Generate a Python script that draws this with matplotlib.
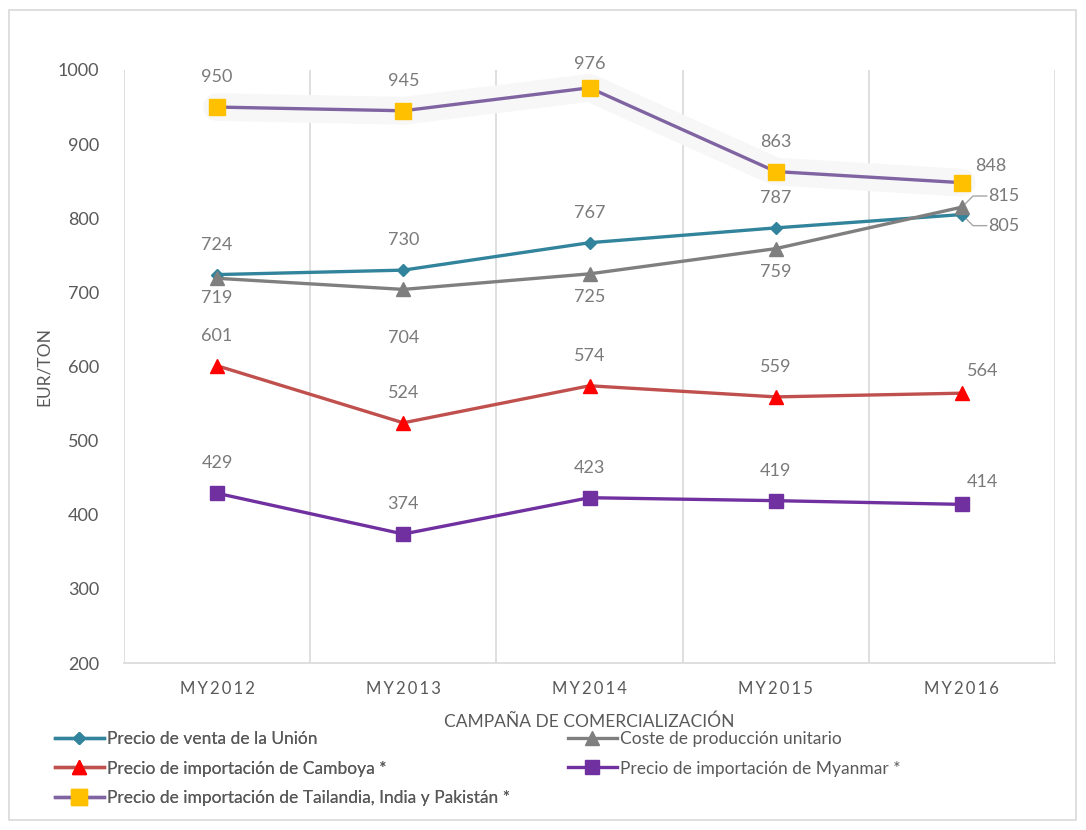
import matplotlib.pyplot as plt
from matplotlib.patches import Rectangle

plt.rcParams['font.family'] = ['Lato', 'DejaVu Sans']

campaigns = ['MY2012', 'MY2013', 'MY2014', 'MY2015', 'MY2016']
precio_union = [724, 730, 767, 787, 805]
coste_produccion = [719, 704, 725, 759, 815]
import_camboya = [601, 524, 574, 559, 564]
import_myanmar = [429, 374, 423, 419, 414]
import_tailandia = [950, 945, 976, 863, 848]

names = ['Precio de venta de la Unión',
         'Coste de producción unitario',
         'Precio de importación de Camboya *',
         'Precio de importación de Myanmar *',
         'Precio de importación de Tailandia, India y Pakistán *']

txt_grey = '#595959'
lab_grey = '#7a7a7a'
grid_grey = '#d9d9d9'

fig = plt.figure(figsize=(10.86, 8.3), dpi=100)
fig.patches.append(Rectangle((9 / 1086, 10 / 830), 1067 / 1086, 810 / 830,
                             transform=fig.transFigure, fill=False,
                             edgecolor=grid_grey, linewidth=1.2))
ax = fig.add_axes([124 / 1086, 1 - 663 / 830, 931 / 1086, 593 / 830])

x = list(range(len(campaigns)))

# soft glow behind the Tailandia series
ax.plot(x, import_tailandia, color='#f7f7f7', lw=20, solid_capstyle='round',
        solid_joinstyle='round', zorder=2)
l_tai, = ax.plot(x, import_tailandia, color='#8064a2', lw=2.4, marker='s', ms=11,
                 mfc='#ffc000', mec='#ffc000', zorder=3)
l_union, = ax.plot(x, precio_union, color='#31849b', lw=2.4, marker='D', ms=6.5, zorder=4)
l_coste, = ax.plot(x, coste_produccion, color='#7f7f7f', lw=2.4, marker='^', ms=9.5, zorder=4)
l_cam, = ax.plot(x, import_camboya, color='#c0504d', lw=2.4, marker='^', ms=9.5,
                 mfc='#ff0000', mec='#ff0000', zorder=4)
l_mya, = ax.plot(x, import_myanmar, color='#7030a0', lw=2.4, marker='s', ms=9.5, zorder=4)


def put_labels(vals, offsets):
    for i, (v, off) in enumerate(zip(vals, offsets)):
        ax.annotate(str(v), (i, v), xytext=off, textcoords='offset points',
                    ha='center', va='center', fontsize=13, color=lab_grey)


up = (0, 21.5)
put_labels(precio_union, [up, up, up, up, (30, -8)])
put_labels(coste_produccion, [(0, -14), (0, -35), (0, -16.5), (0, -17), (30, 8)])
put_labels(import_camboya, [up, up, up, up, (15, 16)])
put_labels(import_myanmar, [up, up, up, up, (15, 16)])
put_labels(import_tailandia, [up, up, (0, 17), up, (21, 12)])

# leader lines for the two crowded labels at MY2016
ax.annotate('', (4, coste_produccion[4]), xytext=(20, 8), textcoords='offset points',
            arrowprops=dict(arrowstyle='-', color='#a6a6a6', lw=1,
                            connectionstyle='angle,angleA=0,angleB=45,rad=0'))
ax.annotate('', (4, precio_union[4]), xytext=(20, -8), textcoords='offset points',
            arrowprops=dict(arrowstyle='-', color='#a6a6a6', lw=1,
                            connectionstyle='angle,angleA=0,angleB=-45,rad=0'))

ax.set_xlim(-0.5, len(campaigns) - 0.5)
ax.set_ylim(200, 1000)
ax.set_yticks(range(200, 1001, 100))
ax.set_xticks(x)
# excel spreads the category letters a bit
ax.set_xticklabels(['\u2009'.join(c) for c in campaigns])
ax.set_xticks([i - 0.5 for i in range(len(campaigns) + 1)], minor=True)
ax.grid(True, which='minor', axis='x', color=grid_grey, lw=1.2)
ax.tick_params(which='both', length=0)
ax.tick_params(axis='y', labelsize=13, labelcolor=txt_grey, pad=18)
ax.tick_params(axis='x', labelsize=12, labelcolor=txt_grey, pad=13)
for s in ['top', 'right', 'left']:
    ax.spines[s].set_visible(False)
ax.spines['bottom'].set_color(grid_grey)
ax.spines['bottom'].set_linewidth(1.2)

ax.set_ylabel('EUR/TON', fontsize=12.5, color=txt_grey, labelpad=4)
ax.set_xlabel('CAMPAÑA DE COMERCIALIZACIÓN', fontsize=12.5, color=txt_grey, labelpad=12)

leg_kw = dict(frameon=False, fontsize=12.5, handlelength=2.8, handletextpad=0.2,
              labelspacing=0.78, borderaxespad=0, borderpad=0, labelcolor=txt_grey)
leg1 = fig.legend([l_union, l_cam, l_tai], [names[0], names[2], names[4]],
                  loc='upper left', bbox_to_anchor=(55 / 1086, 1 - 731 / 830), **leg_kw)
leg2 = fig.legend([l_coste, l_mya], [names[1], names[3]],
                  loc='upper left', bbox_to_anchor=(568 / 1086, 1 - 731 / 830), **leg_kw)
fig.add_artist(leg1)

fig.savefig('out.png', dpi=100)
